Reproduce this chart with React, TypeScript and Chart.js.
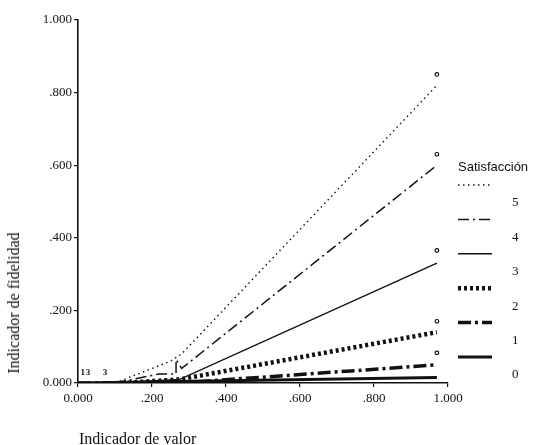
import React, { useEffect, useRef } from "react";
import { Chart, registerables } from "chart.js";

Chart.register(...registerables);

// Series (Satisfacción levels 5..0): x = Indicador de valor, y = Indicador de fidelidad
const seriesNames = ["5", "4", "3", "2", "1", "0"];
const s5X = [0.1, 0.25, 0.28, 0.97];
const s5Y = [0.0, 0.06, 0.08, 0.82];
const s4X = [0.1, 0.22, 0.265, 0.265, 0.28, 0.97];
const s4Y = [0.0, 0.025, 0.025, 0.065, 0.04, 0.6];
const s3X = [0.1, 0.275, 0.97];
const s3Y = [0.0, 0.01, 0.33];
const s2X = [0.12, 0.275, 0.97];
const s2Y = [0.0, 0.01, 0.14];
const s1X = [0.0, 0.275, 0.97];
const s1Y = [0.0, 0.0, 0.05];
const s0X = [0.0, 0.97];
const s0Y = [0.0, 0.015];

// Observed-point markers ("o") near line ends
const markerX = [0.97, 0.97, 0.97, 0.97, 0.97];
const markerY = [0.85, 0.63, 0.365, 0.17, 0.083];

// Small annotation glyphs near origin
const smallText = ["1", "3", "3"];
const smallX = [0.013, 0.027, 0.073];
const smallY = [0.028, 0.028, 0.028];

const yTicks = [0, 0.2, 0.4, 0.6, 0.8, 1.0];
const xTicks = [0, 0.2, 0.4, 0.6, 0.8, 1.0];

const fmt = (v: number) => {
  if (Math.abs(v) < 1e-9) return "0.000";
  if (Math.abs(v - 1) < 1e-9) return "1.000";
  return v.toFixed(3).replace(/^0/, "");
};

const toPts = (xs: number[], ys: number[]) => xs.map((x, i) => ({ x, y: ys[i] }));

const styles = [
  { borderWidth: 1.4, borderDash: [1.5, 3.5] },
  { borderWidth: 1.5, borderDash: [11, 4, 2, 4] },
  { borderWidth: 1.4, borderDash: [] as number[] },
  { borderWidth: 4.5, borderDash: [3, 3] },
  { borderWidth: 3.5, borderDash: [13, 4, 3, 4] },
  { borderWidth: 3, borderDash: [] as number[] },
];

export default function App() {
  const ref = useRef<HTMLCanvasElement | null>(null);

  useEffect(() => {
    if (!ref.current) return;
    const seriesData = [
      toPts(s5X, s5Y),
      toPts(s4X, s4Y),
      toPts(s3X, s3Y),
      toPts(s2X, s2Y),
      toPts(s1X, s1Y),
      toPts(s0X, s0Y),
    ];

    const datasets: any[] = seriesData.map((d, i) => ({
      type: "line",
      label: seriesNames[i],
      data: d,
      borderColor: "#111",
      backgroundColor: "#111",
      borderWidth: styles[i].borderWidth,
      borderDash: styles[i].borderDash,
      pointRadius: 0,
      fill: false,
      tension: 0,
      borderCapStyle: "butt",
    }));
    datasets.push({
      type: "scatter",
      label: "obs",
      data: toPts(markerX, markerY),
      pointStyle: "circle",
      pointRadius: 1.8,
      borderWidth: 1.2,
      borderColor: "#111",
      backgroundColor: "#fff",
      showLine: false,
    });

    const extras = {
      id: "extras",
      afterDatasetsDraw(chart: any) {
        const ctx = chart.ctx;
        const xs = chart.scales.x;
        const ys = chart.scales.y;
        ctx.save();
        ctx.fillStyle = "#111";
        ctx.font = "bold 9px 'Liberation Serif'";
        ctx.textAlign = "center";
        ctx.textBaseline = "middle";
        smallText.forEach((t, i) => {
          ctx.fillText(t, xs.getPixelForValue(smallX[i]), ys.getPixelForValue(smallY[i]));
        });
        ctx.restore();
      },
      afterDraw(chart: any) {
        const ctx = chart.ctx;
        ctx.save();
        ctx.fillStyle = "#111";
        ctx.font = "13px 'Liberation Sans'";
        ctx.textAlign = "left";
        ctx.textBaseline = "middle";
        ctx.fillText("Satisfacción", 458, 167);
        const step = 34.4;
        seriesNames.forEach((name, i) => {
          const ly = 185 + i * step;
          ctx.strokeStyle = "#111";
          ctx.lineWidth = styles[i].borderWidth;
          ctx.setLineDash(styles[i].borderDash);
          ctx.beginPath();
          ctx.moveTo(458, ly);
          ctx.lineTo(492, ly);
          ctx.stroke();
          ctx.setLineDash([]);
          ctx.font = "13px 'Liberation Serif'";
          ctx.fillText(name, 512, ly + 18);
        });
        ctx.restore();
      },
    };

    const chart = new Chart(ref.current, {
      type: "line",
      data: { datasets },
      options: {
        responsive: false,
        animation: false,
        layout: { padding: { left: 18, right: 94, top: 20, bottom: 32 } },
        plugins: { legend: { display: false }, tooltip: { enabled: false } },
        scales: {
          x: {
            type: "linear",
            min: 0,
            max: 1,
            afterFit: (s: any) => {
              s.height = 30;
            },
            afterBuildTicks: (s: any) => {
              s.ticks = xTicks.map((v) => ({ value: v }));
            },
            ticks: {
              callback: (v: any) => fmt(Number(v)),
              color: "#111",
              font: { family: "'Liberation Serif'", size: 13 },
              padding: 4,
              maxRotation: 0,
            },
            grid: { drawOnChartArea: false, drawTicks: true, tickLength: 4, color: "#111", lineWidth: 1.2 },
            border: { display: true, color: "#111", width: 1.6 },
          },
          y: {
            type: "linear",
            min: 0,
            max: 1,
            afterFit: (s: any) => {
              s.width = 60;
            },
            afterBuildTicks: (s: any) => {
              s.ticks = yTicks.map((v) => ({ value: v }));
            },
            ticks: {
              callback: (v: any) => fmt(Number(v)),
              color: "#111",
              font: { family: "'Liberation Serif'", size: 13 },
              padding: 2,
            },
            grid: { drawOnChartArea: false, drawTicks: true, tickLength: 4, color: "#111", lineWidth: 1.2 },
            border: { display: true, color: "#111", width: 1.6 },
          },
        },
      },
      plugins: [extras],
    } as any);
    return () => chart.destroy();
  }, []);

  return (
    <div style={{ position: "fixed", left: 0, top: 0, width: 542, height: 445, background: "#fff" }}>
      <canvas ref={ref} width={542} height={445} style={{ display: "block" }} />
      <div
        style={{
          position: "absolute",
          left: 14,
          top: 303,
          transform: "translate(-50%, -50%) rotate(-90deg)",
          whiteSpace: "nowrap",
          font: "16px 'Liberation Serif'",
          color: "#111",
        }}
      >
        Indicador de fidelidad
      </div>
      <div
        style={{
          position: "absolute",
          left: 79,
          top: 430,
          whiteSpace: "nowrap",
          font: "16px 'Liberation Serif'",
          color: "#111",
        }}
      >
        Indicador de valor
      </div>
    </div>
  );
}
